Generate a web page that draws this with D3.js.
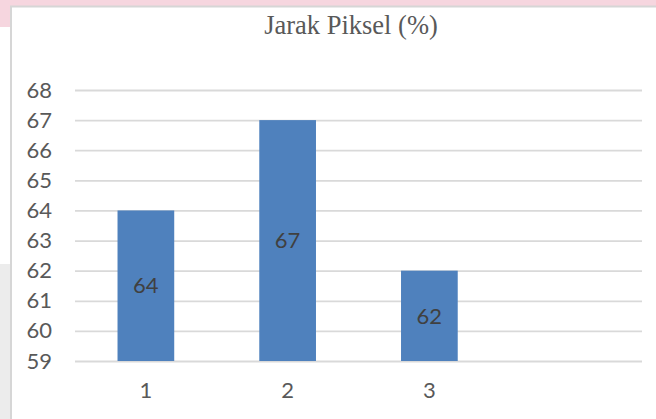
<!DOCTYPE html>
<html>
<head>
<meta charset="utf-8">
<script src="https://cdn.jsdelivr.net/npm/d3@7"></script>
<style>
  html, body { margin: 0; padding: 0; background: #fff; }
  svg { display: block; }
</style>
</head>
<body>
<svg id="chart" width="656" height="419"></svg>
<script>
const title = "Jarak Piksel (%)";
const categories = ["1", "2", "3"];
const values = [64, 67, 62];
const yTicks = [59, 60, 61, 62, 63, 64, 65, 66, 67, 68];

const W = 656, H = 419;
const svg = d3.select("#chart");
const sans = "Lato, 'Open Sans', sans-serif";

// page background pieces around the chart frame
svg.append("rect").attr("x", 0).attr("y", 0).attr("width", W).attr("height", 6).attr("fill", "#f6d6df");
svg.append("rect").attr("x", 0).attr("y", 0).attr("width", 10).attr("height", 27).attr("fill", "#f6d6df");
svg.append("rect").attr("x", 0).attr("y", 264).attr("width", 10).attr("height", H - 264).attr("fill", "#ececec");
// chart frame (left and top edges)
svg.append("path").attr("d", `M11,${H} L11,6.5 L${W},6.5`).attr("fill", "none").attr("stroke", "#d6d6d6").attr("stroke-width", 2);

const x = d3.scaleBand().domain(categories.concat(["_empty"])).range([75, 642]).padding(0);
const y = d3.scaleLinear().domain([59, 68]).range([361, 90]);

// gridlines
const grid = svg.append("g").attr("transform", "translate(75,0)")
  .call(d3.axisLeft(y).tickValues(yTicks).tickSize(-(642 - 75)).tickFormat(""));
grid.select(".domain").remove();
grid.selectAll("line").attr("stroke", "#d9d9d9").attr("stroke-width", 1.8);

// y tick labels
const yAxis = svg.append("g").attr("transform", "translate(52,0)")
  .call(d3.axisLeft(y).tickValues(yTicks).tickSize(0).tickPadding(0));
yAxis.select(".domain").remove();
yAxis.selectAll("text")
  .attr("font-family", sans).attr("font-size", 22).attr("fill", "#595959");

// bars
const barW = x.bandwidth() * 0.4;
svg.append("g").selectAll("rect").data(values).join("rect")
  .attr("x", (d, i) => x(categories[i]) + (x.bandwidth() - barW) / 2)
  .attr("y", d => y(d))
  .attr("width", barW)
  .attr("height", d => y(59) - y(d))
  .attr("fill", "#4f81bd");

// bar value labels (centered in bars)
svg.append("g").selectAll("text").data(values).join("text")
  .attr("x", (d, i) => x(categories[i]) + x.bandwidth() / 2)
  .attr("y", d => (y(d) + y(59)) / 2)
  .attr("dy", "0.35em")
  .attr("text-anchor", "middle")
  .attr("font-family", sans).attr("font-size", 22).attr("fill", "#404040")
  .text(d => d);

// x axis labels
const xAxis = svg.append("g").attr("transform", "translate(0,361)")
  .call(d3.axisBottom(x).tickSize(0).tickPadding(21).tickFormat(d => categories.includes(d) ? d : ""));
xAxis.select(".domain").remove();
xAxis.selectAll("text")
  .attr("font-family", sans).attr("font-size", 22).attr("fill", "#595959");

// title
svg.append("text").attr("x", 351).attr("y", 34).attr("text-anchor", "middle")
  .attr("font-family", "'Liberation Serif', 'Times New Roman', serif").attr("font-size", 26.5).attr("fill", "#595959")
  .text(title);
</script>
</body>
</html>
